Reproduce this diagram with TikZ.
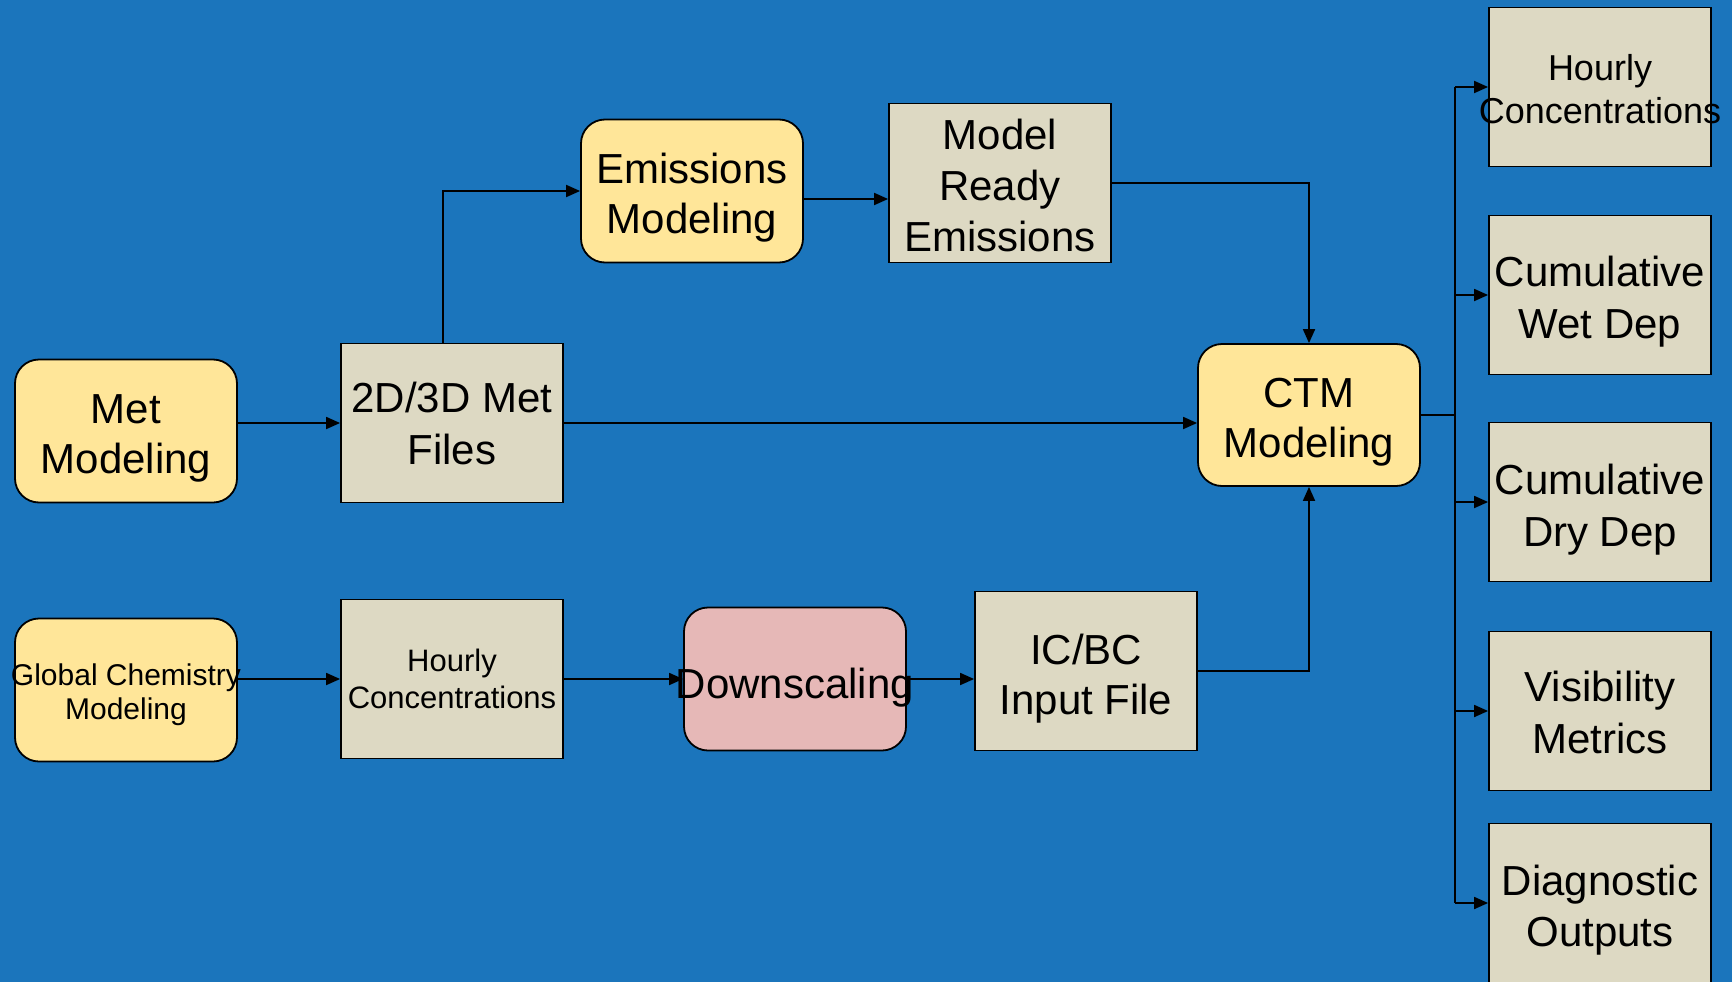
\documentclass[tikz,border=0pt]{standalone}
\usepackage{fontspec}
\setmainfont{Liberation Sans}
\usetikzlibrary{arrows.meta}
\definecolor{bg}{RGB}{27,117,188}
\definecolor{yel}{RGB}{255,230,153}
\definecolor{beige}{RGB}{221,217,195}
\definecolor{pinkbox}{RGB}{230,184,183}
\newcommand\mystrut[1]{\rule{0pt}{#1pt}}
\begin{document}
\begin{tikzpicture}[x=1pt,y=-1pt,
  box/.style={draw=black, line width=1.8pt, minimum width=222pt, inner sep=0pt, align=center, font=\fontsize{42}{50}\selectfont},
  proc/.style={box, fill=yel, rounded corners=24pt, minimum height=143pt},
  databox/.style={box, fill=beige, minimum height=159pt},
  arr/.style={line width=1.8pt, -{Triangle[length=14pt,width=12pt]}},
  ln/.style={line width=1.8pt}]
\fill[bg] (0,0) rectangle (1732,982);
\useasboundingbox (0,0) rectangle (1732,982);

\node[proc] (met) at (126,431) {\mystrut{43}Met\\Modeling};
\node[databox, font=\fontsize{42}{52}\selectfont] (files) at (452,423) {\mystrut{32}2D/3D Met\\Files};
\node[proc] (emis) at (692,191) {\mystrut{43}Emissions\\Modeling};
\node[databox, font=\fontsize{42}{51}\selectfont] (mre) at (1000,183) {\mystrut{35}Model\\Ready\\Emissions};
\node[proc, minimum height=142pt] (ctm) at (1309,415) {\mystrut{44}CTM\\Modeling};
\node[proc, font=\fontsize{30}{34}\selectfont] (glob) at (126,690) {\mystrut{31}\makebox[0pt]{Global Chemistry}\\Modeling};
\node[databox, font=\fontsize{31}{37}\selectfont] (hc) at (452,679) {Hourly\\Concentrations};
\node[proc, fill=pinkbox] (down) at (795,679) {\mystrut{48}\makebox[0pt]{Downscaling}};
\node[databox] (icbc) at (1086,671) {\mystrut{45}IC/BC\\Input File};

\node[databox, font=\fontsize{36}{43}\selectfont] (o1) at (1600,87) {\mystrut{30}Hourly\\\makebox[0pt]{Concentrations}};
\node[databox, font=\fontsize{42}{52}\selectfont] (o2) at (1600,295) {\mystrut{44}Cumulative\\Wet Dep};
\node[databox, font=\fontsize{42}{52}\selectfont] (o3) at (1600,502) {\mystrut{46}Cumulative\\Dry Dep};
\node[databox, font=\fontsize{42}{52}\selectfont] (o4) at (1600,711) {\mystrut{34}Visibility\\Metrics};
\node[databox, font=\fontsize{42}{51}\selectfont] (o5) at (1600,903) {\mystrut{44}Diagnostic\\Outputs};

\coordinate (bus) at (1455,415);

\draw[arr] (met.east |- files.west) -- (files.west);
\draw[arr] ([xshift=-9pt]files.north) |- (emis.west);
\draw[arr] ([yshift=-8pt]emis.east) -- ([yshift=-8pt]emis.east -| mre.west);
\draw[arr] (mre.east) -| (ctm.north);
\draw[arr] (files.east) -- (files.east -| ctm.west);
\draw[arr] (glob.east |- hc.west) -- (hc.west);
\draw[arr] (hc.east) -- (down.west);
\draw[arr] (down.east) -- (down.east -| icbc.west);
\draw[arr] (icbc.east) -| (ctm.south);

\draw[ln] (ctm.east) -- (bus);
\draw[ln] (bus |- o1.west) -- (bus |- o5.west);
\draw[arr] (bus |- o1.west) -- (o1.west);
\draw[arr] (bus |- o2.west) -- (o2.west);
\draw[arr] (bus |- o3.west) -- (o3.west);
\draw[arr] (bus |- o4.west) -- (o4.west);
\draw[arr] (bus |- o5.west) -- (o5.west);
\end{tikzpicture}
\end{document}
